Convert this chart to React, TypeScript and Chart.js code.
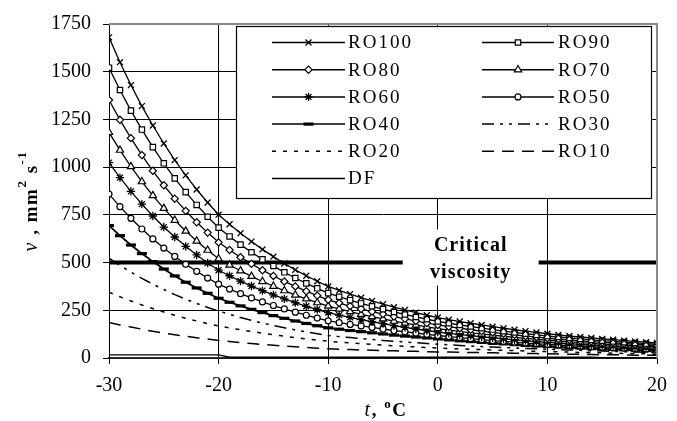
import React, { useEffect, useRef } from 'react';
import { Chart, registerables } from 'chart.js';
import { drawPoint } from 'chart.js/helpers';

Chart.register(...registerables);

// ---- data ----
const TEMPS = [-30,-29,-28,-27,-26,-25,-24,-23,-22,-21,-20,-19,-18,-17,-16,-15,-14,-13,-12,-11,-10,-9,-8,-7,-6,-5,-4,-3,-2,-1,0,1,2,3,4,5,6,7,8,9,10,11,12,13,14,15,16,17,18,19,20];

const RO100 = [1680,1550,1430,1320,1218,1124,1037,957,883,815,751,701,654,610,569,531,495,462,431,402,375,354,335,316,299,282,266,252,238,224,212,201,191,182,173,164,156,148,141,134,127,121,115,110,105,100,96,91,87,83,79];
const RO90 = [1521,1404,1296,1197,1105,1020,941,869,802,740,683,637,594,554,517,482,449,419,391,365,340,321,303,286,271,256,241,228,215,203,192,182,173,165,156,149,141,134,127,121,115,110,105,100,95,91,87,83,79,75,72];
const RO80 = [1352,1248,1152,1063,981,905,835,771,711,657,606,566,528,493,460,430,401,375,350,327,305,288,272,257,243,230,217,205,194,183,173,164,156,148,141,134,128,121,115,109,104,99,95,90,86,82,79,75,72,68,65];
const RO70 = [1182,1089,1003,924,851,784,722,665,613,565,520,487,457,428,401,376,353,330,310,290,272,257,243,229,217,205,193,183,173,163,154,146,139,132,126,120,114,108,103,98,93,89,85,81,77,73,70,67,64,61,58];
const RO60 = [1024,945,873,806,744,686,634,585,540,498,460,431,403,377,353,331,310,290,271,254,238,225,213,201,190,180,170,161,152,144,136,129,123,117,111,106,100,95,91,86,82,78,75,71,68,65,62,59,56,53,51];
const RO50 = [859,793,732,676,624,576,532,491,454,419,387,361,337,315,294,275,257,240,224,209,195,185,176,168,160,152,144,137,131,124,118,112,107,101,96,91,87,83,78,75,71,68,65,62,59,56,53,51,48,46,44];
const RO40 = [694,641,592,547,505,466,430,397,367,339,313,292,273,255,238,222,208,194,181,169,158,151,144,138,132,126,120,115,110,105,100,95,90,86,82,77,74,70,66,63,60,57,54,52,49,47,45,43,41,39,37];
const RO30 = [523,485,450,417,387,359,332,308,286,265,246,229,212,197,183,170,158,147,136,127,118,112,107,102,97,92,88,84,80,76,72,69,66,63,60,57,55,53,50,48,46,44,42,40,38,37,35,33,32,30,29];
const RO20 = [345,321,299,278,259,241,224,208,194,180,168,157,148,139,130,122,114,107,100,94,88,83,79,75,71,68,64,61,58,55,52,50,48,46,44,42,40,39,37,35,34,32,31,29,28,27,25,24,23,22,21];
const RO10 = [186,173,162,151,140,131,122,114,106,99,92,86,81,76,71,67,62,59,55,51,48,46,44,42,41,39,38,36,35,33,32,31,30,29,28,27,26,25,24,23,22,21,20,19,18,17,17,16,15,15,14];
const DF = [16,16,16,16,16,16,16,16,16,16,16,4,4,4,4,4,4,4,4,4,4,4,4,4,4,4,4,4,4,4,4,4,4,4,4,4,4,4,4,4,4,4,4,4,4,2,2,2,2,2,2];

const CRIT_T = [-30, 20];
const CRIT_V = [500, 500];
const CRIT_GAP = [-3.2, 9.2];
const CRIT_TEXT = ['Critical', 'viscosity'];

const X_TICKS = { min: -30, max: 20, step: 10 };
const Y_TICKS = { min: 0, max: 1750, step: 250 };

// ---- styles ----
const SERIES = [
  { label: 'RO100', values: RO100, pointStyle: 'crossRot', radius: 4.2, pbw: 1.3, dash: [], width: 1.3 },
  { label: 'RO90', values: RO90, pointStyle: 'rect', radius: 3.8, pbw: 1.2, dash: [], width: 1.3 },
  { label: 'RO80', values: RO80, pointStyle: 'rectRot', radius: 3.6, pbw: 1.2, dash: [], width: 1.3 },
  { label: 'RO70', values: RO70, pointStyle: 'triangle', radius: 4.2, pbw: 1.2, dash: [], width: 1.3 },
  { label: 'RO60', values: RO60, pointStyle: 'star', radius: 4.2, pbw: 1.3, dash: [], width: 1.3 },
  { label: 'RO50', values: RO50, pointStyle: 'circle', radius: 3, pbw: 1.2, dash: [], width: 1.3 },
  { label: 'RO40', values: RO40, pointStyle: 'line', radius: 5, pbw: 3.2, dash: [], width: 1.8 },
  { label: 'RO30', values: RO30, pointStyle: false, radius: 0, pbw: 0, dash: [12, 6, 3, 6, 3, 6], width: 1.5 },
  { label: 'RO20', values: RO20, pointStyle: false, radius: 0, pbw: 0, dash: [4, 7], width: 1.5 },
  { label: 'RO10', values: RO10, pointStyle: false, radius: 0, pbw: 0, dash: [12, 8], width: 1.5 },
  { label: 'DF', values: DF, pointStyle: false, radius: 0, pbw: 0, dash: [], width: 1.3 },
];

const FONT = 'Liberation Serif';

function drawRich(ctx: CanvasRenderingContext2D, parts: any[], startX: number, baseY: number) {
  let x = startX;
  for (const p of parts) {
    ctx.font = p.font;
    ctx.fillText(p.text, x, baseY - (p.raise || 0));
    x += ctx.measureText(p.text).width;
  }
  return x;
}
function richWidth(ctx: CanvasRenderingContext2D, parts: any[]) {
  let w = 0;
  for (const p of parts) {
    ctx.font = p.font;
    w += ctx.measureText(p.text).width;
  }
  return w;
}

const overlayPlugin = {
  id: 'overlay',
  afterDatasetsDraw(chart: any) {
    const ctx = chart.ctx as CanvasRenderingContext2D;
    const xs = chart.scales.x;
    const ys = chart.scales.y;
    const x0 = xs.getPixelForValue(CRIT_GAP[0]);
    const x1 = xs.getPixelForValue(CRIT_GAP[1]);
    const yc = ys.getPixelForValue(CRIT_V[0]);
    ctx.save();
    ctx.fillStyle = '#fff';
    ctx.fillRect(x0, yc - 33, x1 - x0, 56);
    ctx.fillStyle = '#000';
    ctx.font = `bold 20px "${FONT}"`;
    (ctx as any).letterSpacing = '1px';
    ctx.textAlign = 'center';
    ctx.textBaseline = 'middle';
    const cx = (x0 + x1) / 2;
    ctx.fillText(CRIT_TEXT[0], cx, yc - 17);
    ctx.fillText(CRIT_TEXT[1], cx, yc + 10);
    ctx.restore();
  },
  afterDraw(chart: any) {
    const ctx = chart.ctx as CanvasRenderingContext2D;
    const area = chart.chartArea;
    ctx.save();
    ctx.strokeStyle = '#8a8a8a';
    ctx.lineWidth = 2;
    ctx.beginPath();
    ctx.moveTo(area.left, area.top);
    ctx.lineTo(area.right, area.top);
    ctx.lineTo(area.right, area.bottom);
    ctx.stroke();

    // legend box
    const L = 236.5, T = 26.5, R = 651.5, B = 198.5;
    ctx.fillStyle = '#fff';
    ctx.fillRect(L, T, R - L, B - T);
    ctx.strokeStyle = '#000';
    ctx.lineWidth = 1.2;
    ctx.strokeRect(L, T, R - L, B - T);
    const cols = [
      { x0: 272, x1: 345, tx: 348 },
      { x0: 482, x1: 554, tx: 558 },
    ];
    SERIES.forEach((s, i) => {
      const row = Math.floor(i / 2);
      const c = cols[i % 2];
      const y = 42.5 + row * 27.2;
      ctx.save();
      ctx.strokeStyle = '#000';
      ctx.lineWidth = 1.5;
      ctx.setLineDash(s.dash);
      ctx.beginPath();
      ctx.moveTo(c.x0, y);
      ctx.lineTo(c.x1, y);
      ctx.stroke();
      ctx.setLineDash([]);
      if (s.pointStyle) {
        ctx.fillStyle = '#fff';
        ctx.strokeStyle = '#000';
        ctx.lineWidth = s.pbw;
        drawPoint(ctx, { pointStyle: s.pointStyle, radius: s.radius, borderWidth: s.pbw, rotation: 0 } as any, (c.x0 + c.x1) / 2, y);
      }
      ctx.fillStyle = '#000';
      ctx.font = `19px "${FONT}"`;
      (ctx as any).letterSpacing = '2px';
      ctx.textAlign = 'left';
      ctx.textBaseline = 'middle';
      ctx.fillText(s.label, c.tx, y + 1);
      (ctx as any).letterSpacing = '0px';
      ctx.restore();
    });

    // axis titles
    ctx.fillStyle = '#000';
    ctx.textAlign = 'left';
    ctx.textBaseline = 'alphabetic';
    (ctx as any).letterSpacing = '1.5px';
    const big = `bold 19px "${FONT}"`;
    const sup = `bold 13px "${FONT}"`;
    const xParts = [
      { text: 't', font: `italic 20px "${FONT}"` },
      { text: ', ', font: big },
      { text: 'o', font: sup, raise: 8 },
      { text: 'C', font: big },
    ];
    const xw = richWidth(ctx, xParts);
    const xc = (area.left + area.right) / 2 + 3;
    drawRich(ctx, xParts, xc - xw / 2, 416);

    const yParts = [
      { text: 'ν', font: `italic 20px "${FONT}"` },
      { text: ' , ', font: big },
      { text: 'mm', font: big },
      { text: '2', font: sup, raise: 11 },
      { text: ' s', font: big },
      { text: '-1', font: sup, raise: 11 },
    ];
    const yw = richWidth(ctx, yParts);
    ctx.translate(37, 201);
    ctx.rotate(-Math.PI / 2);
    drawRich(ctx, yParts, -yw / 2, 0);
    (ctx as any).letterSpacing = '0px';
    ctx.restore();
  },
};

export default function App() {
  const ref = useRef<HTMLCanvasElement | null>(null);
  useEffect(() => {
    document.body.style.margin = '0';
    const canvas = ref.current;
    if (!canvas) return;
    const datasets: any[] = SERIES.map((s) => ({
      label: s.label,
      data: TEMPS.map((t, i) => ({ x: t, y: s.values[i] })),
      borderColor: '#000',
      borderWidth: s.width,
      borderDash: s.dash,
      backgroundColor: '#fff',
      pointStyle: s.pointStyle,
      pointRadius: s.radius,
      pointBorderWidth: s.pbw,
      pointBackgroundColor: '#fff',
      pointBorderColor: '#000',
      fill: false,
      tension: 0,
    }));
    datasets.push({
      label: 'Critical viscosity',
      data: CRIT_T.map((t, i) => ({ x: t, y: CRIT_V[i] })),
      borderColor: '#000',
      borderWidth: 4,
      borderCapStyle: 'butt',
      pointRadius: 0,
      fill: false,
    });
    const tickFont = { family: FONT, size: 20 };
    const chart = new Chart(canvas, {
      type: 'line',
      data: { datasets },
      options: {
        animation: false,
        responsive: true,
        maintainAspectRatio: false,
        layout: { padding: { left: 0, right: 11, top: 17, bottom: 0 } },
        plugins: { legend: { display: false }, tooltip: { enabled: false } },
        scales: {
          x: {
            type: 'linear',
            min: X_TICKS.min,
            max: X_TICKS.max,
            ticks: { stepSize: X_TICKS.step, color: '#000', font: tickFont, padding: 10, maxRotation: 0, callback: (v: any) => String(v) },
            grid: { color: '#000', lineWidth: 1, tickLength: 6 },
            border: { color: '#333', width: 1.5 },
            afterFit: (s: any) => { s.height = 63; },
          },
          y: {
            min: Y_TICKS.min,
            max: Y_TICKS.max,
            ticks: { stepSize: Y_TICKS.step, color: '#000', font: tickFont, padding: 12, callback: (v: any) => String(v) },
            grid: { color: '#000', lineWidth: 1, tickLength: 6 },
            border: { color: '#000', width: 1 },
            afterFit: (s: any) => { s.width = 109; },
          },
        },
      } as any,
      plugins: [overlayPlugin],
    });
    return () => chart.destroy();
  }, []);
  return (
    <div style={{ width: 677, height: 421, position: 'relative' }}>
      <canvas ref={ref} />
    </div>
  );
}
